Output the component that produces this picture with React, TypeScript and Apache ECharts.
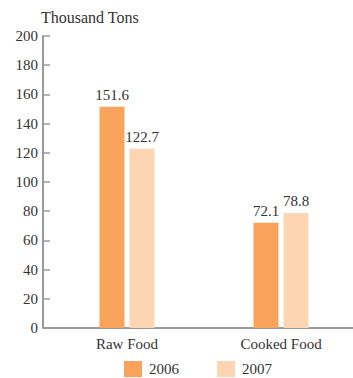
import React, { useEffect, useRef } from "react";
import * as echarts from "echarts";

const categories = ["Raw Food", "Cooked Food"];
const years = ["2006", "2007"];
const values2006 = [151.6, 72.1];
const values2007 = [122.7, 78.8];
const yTicks = { min: 0, max: 200, interval: 20 };

const FONT = "'Liberation Serif', 'DejaVu Serif', serif";
const TEXT = "#333333";
const AXIS = "#9a9a9a";
const COLORS = ["#F8A25C", "#FDD5B2"];

export default function App() {
  const ref = useRef<HTMLDivElement>(null);

  useEffect(() => {
    if (!ref.current) return;
    const chart = echarts.init(ref.current, undefined, { renderer: "svg" });
    const label = {
      show: true,
      position: "top" as const,
      distance: 4,
      color: TEXT,
      fontFamily: FONT,
      fontSize: 15,
    };
    chart.setOption({
      animation: false,
      backgroundColor: "#ffffff",
      textStyle: { fontFamily: FONT },
      title: {
        text: "Thousand Tons",
        left: 41,
        top: 9,
        padding: 0,
        textStyle: { fontFamily: FONT, fontSize: 16, fontWeight: "normal", color: TEXT },
      },
      legend: {
        bottom: 1,
        left: 124,
        padding: 0,
        itemWidth: 18,
        itemHeight: 16,
        itemGap: 38,
        icon: "rect",
        textStyle: { fontFamily: FONT, fontSize: 15, color: TEXT, padding: [0, 0, 0, 2] },
        data: years,
      },
      // the plot runs a few pixels past the right edge of the page
      grid: { left: 50, right: 0, top: 36, bottom: 50 },
      xAxis: {
        type: "category",
        data: categories,
        axisLine: { lineStyle: { color: AXIS, width: 2 } },
        axisTick: { show: false },
        axisLabel: { color: TEXT, fontFamily: FONT, fontSize: 15, margin: 8 },
      },
      yAxis: {
        type: "value",
        min: yTicks.min,
        max: yTicks.max,
        interval: yTicks.interval,
        offset: 7,
        axisLine: { show: true, lineStyle: { color: AXIS, width: 2 } },
        axisTick: { show: true, inside: true, length: 7, lineStyle: { color: AXIS, width: 1.5 } },
        axisLabel: { color: TEXT, fontFamily: FONT, fontSize: 15, margin: 5 },
        splitLine: { show: false },
      },
      graphic: [
        {
          type: "line",
          shape: { x1: 43, y1: 328, x2: 51, y2: 328 },
          style: { stroke: AXIS, lineWidth: 2 },
        },
      ],
      series: [
        {
          name: years[0],
          type: "bar",
          data: values2006,
          barWidth: 25,
          barGap: "20%",
          itemStyle: { color: COLORS[0] },
          label,
        },
        {
          name: years[1],
          type: "bar",
          data: values2007,
          barWidth: 25,
          itemStyle: { color: COLORS[1] },
          label,
        },
      ],
    });
    return () => chart.dispose();
  }, []);

  return (
    <div
      ref={ref}
      style={{ position: "fixed", left: 0, top: 0, width: 358, height: 378 }}
    />
  );
}
